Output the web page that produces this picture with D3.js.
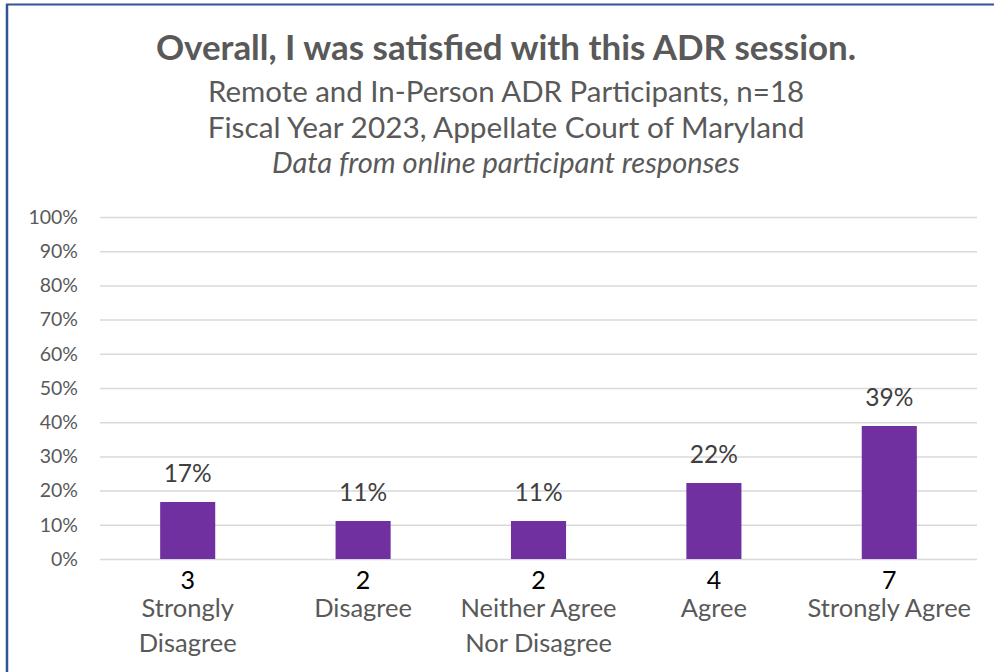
<!DOCTYPE html>
<html>
<head>
<meta charset="utf-8">
<script src="https://cdn.jsdelivr.net/npm/d3@7"></script>
<style>
  html, body { margin: 0; padding: 0; background: #fff; }
  svg { display: block; font-family: "Lato", "Open Sans", sans-serif; }
</style>
</head>
<body>
<svg id="chart" width="994" height="672"></svg>
<script>
// Survey responses, FY2023 Appellate Court of Maryland
const categories = [["Strongly", "Disagree"], ["Disagree"], ["Neither Agree", "Nor Disagree"], ["Agree"], ["Strongly Agree"]];
const counts = [3, 2, 2, 4, 7];
const total = 18;
const shares = counts.map(c => c / total);
const yTicks = [0, 0.1, 0.2, 0.3, 0.4, 0.5, 0.6, 0.7, 0.8, 0.9, 1.0];
const titleLines = [
  "Overall, I was satisfied with this ADR session.",
  "Remote and In-Person ADR Participants, n=18",
  "Fiscal Year 2023, Appellate Court of Maryland",
  "Data from online participant responses"
];

const svg = d3.select("#chart");
const W = 994, H = 672;
const plot = { left: 100, right: 977, top: 217, bottom: 559 };

// frame edges (top and left)
svg.append("line").attr("x1", 6).attr("x2", W).attr("y1", 4.5).attr("y2", 4.5)
  .attr("stroke", "#2F5597").attr("stroke-width", 2);
svg.append("line").attr("x1", 7).attr("x2", 7).attr("y1", 4).attr("y2", H)
  .attr("stroke", "#2F5597").attr("stroke-width", 2.5);

// shrink/grow text so it spans the requested width
function fitWidth(sel, target) {
  sel.each(function () {
    const node = this;
    let fs = parseFloat(d3.select(node).attr("font-size"));
    for (let i = 0; i < 3; i++) {
      const w = node.getComputedTextLength();
      if (w > 0) { fs = fs * target / w; d3.select(node).attr("font-size", fs); }
    }
  });
}

// titles
const titleSpecs = [
  { y: 60, size: 30, weight: "bold", style: "normal", width: 700 },
  { y: 102, size: 26, weight: "normal", style: "normal", width: 596 },
  { y: 138, size: 26, weight: "normal", style: "normal", width: 597 },
  { y: 173, size: 24, weight: "normal", style: "italic", width: 468 }
];
titleLines.forEach((t, i) => {
  const s = titleSpecs[i];
  svg.append("text")
    .attr("x", 506).attr("y", s.y)
    .attr("text-anchor", "middle")
    .attr("font-size", s.size)
    .attr("font-weight", s.weight)
    .attr("font-style", s.style)
    .attr("fill", "#595959")
    .text(t)
    .call(fitWidth, s.width);
});

const x = d3.scaleBand()
  .domain(d3.range(categories.length))
  .range([plot.left, plot.right])
  .paddingInner(0.686).paddingOuter(0.343);

const y = d3.scaleLinear().domain([0, 1]).range([plot.bottom, plot.top]);

// gridlines + y axis labels
const yAxis = d3.axisLeft(y).tickValues(yTicks).tickFormat(d3.format(".0%"))
  .tickSize(-(plot.right - plot.left)).tickPadding(22);
const gy = svg.append("g").attr("transform", `translate(${plot.left},0)`).call(yAxis);
gy.select(".domain").remove();
gy.selectAll(".tick line").attr("stroke", "#d9d9d9").attr("stroke-width", 1.5);
gy.selectAll(".tick text").attr("fill", "#595959").attr("font-size", 19.5)
  .attr("font-family", "Lato, 'Open Sans', sans-serif");

// bars
svg.append("g").selectAll("rect").data(shares).join("rect")
  .attr("x", (d, i) => x(i))
  .attr("width", x.bandwidth())
  .attr("y", d => y(d))
  .attr("height", d => y(0) - y(d))
  .attr("fill", "#7030A0");

// value labels
svg.append("g").selectAll("text").data(shares).join("text")
  .attr("x", (d, i) => x(i) + x.bandwidth() / 2)
  .attr("y", d => y(d) - 20)
  .attr("text-anchor", "middle")
  .attr("font-size", 24.5)
  .attr("fill", "#404040")
  .text(d => d3.format(".0%")(d));

// category labels: count on first line, then the response wording
const cat = svg.append("g").selectAll("text").data(categories).join("text")
  .attr("x", (d, i) => x(i) + x.bandwidth() / 2)
  .attr("y", 589)
  .attr("text-anchor", "middle")
  .attr("font-size", 25);
cat.append("tspan")
  .attr("x", (d, i) => x(i) + x.bandwidth() / 2)
  .attr("fill", "#000")
  .text((d, i) => counts[i]);
cat.each(function (d, i) {
  d.forEach((line, j) => {
    d3.select(this).append("tspan")
      .attr("x", x(i) + x.bandwidth() / 2)
      .attr("dy", j === 0 ? 28 : 35)
      .attr("fill", "#595959")
      .attr("font-size", 25.5)
      .text(line);
  });
});
</script>
</body>
</html>
